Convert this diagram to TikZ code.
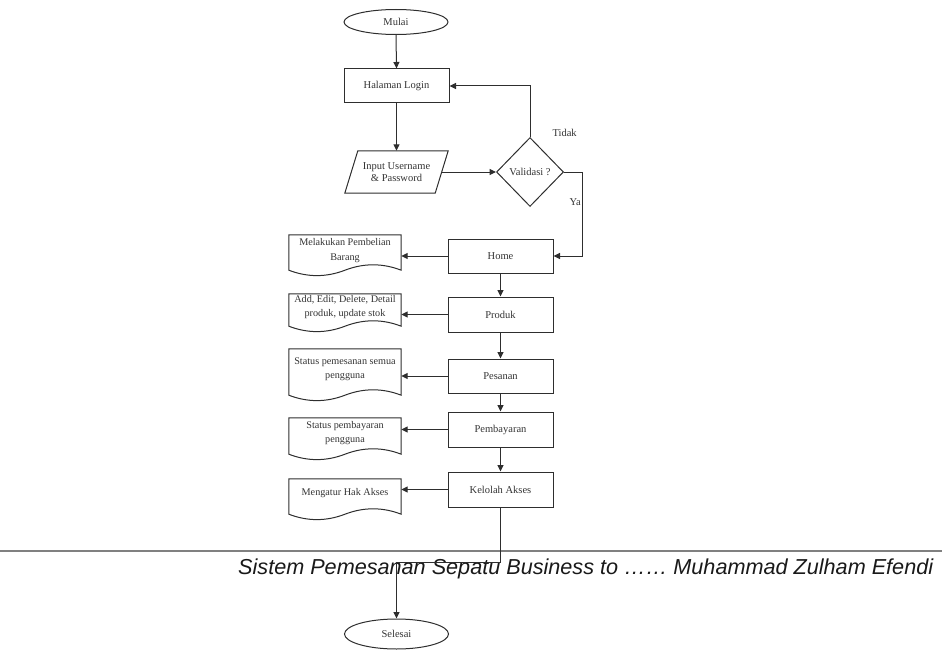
\documentclass[tikz,border=0pt]{standalone}
\usepackage{fontspec}
\setmainfont{Liberation Serif}
\newfontfamily\footfont{Liberation Sans}
\usepackage{graphicx}
\usetikzlibrary{shapes.geometric,arrows.meta,calc}
\definecolor{ln}{HTML}{2E2E2E}
\definecolor{tx}{HTML}{333333}
\begin{document}
\begin{tikzpicture}[x=1pt,y=-1pt,
  every node/.style={font=\fontsize{10.5}{14.5}\selectfont, text=tx},
  arr/.style={draw=ln, line width=1pt, -{Triangle[length=6.5pt,width=6pt]}},
  box/.style={draw=ln, line width=1pt, rectangle, minimum width=105pt, minimum height=34pt, inner sep=0pt},
  oval/.style={draw=ln, line width=1pt, ellipse, minimum width=104pt, inner sep=0pt},
  docbox/.style={rectangle, minimum width=112pt, inner sep=0pt, align=center, font=\fontsize{10.2}{14.5}\selectfont},
  shp/.style={draw=ln, line width=1pt}
]
\useasboundingbox (0,0) rectangle (942,650);

% top part
\node[oval, minimum height=25pt] (mulai) at (396,22) {Mulai};
\node[box] (login) at (396.5,86) {Halaman Login};
\node[rectangle, minimum width=103pt, minimum height=42pt, inner sep=0pt, align=center] (inp) at (396.5,172) {Input Username\\[-2pt]\& Password};
\draw[shp] ([xshift=13pt]inp.north west) -- (inp.north east) -- ([xshift=-13pt]inp.south east) -- (inp.south west) -- cycle;
\coordinate (inpR) at ($(inp.east)+(-6.5,0)$);
\node[draw=ln, line width=1pt, diamond, minimum width=67pt, minimum height=69pt, inner sep=0pt] (val) at (530,172) {Validasi ?};

\node[anchor=west] (tidak) at (549,133) {Tidak};
\node[anchor=west] (ya) at (566,202) {Ya};

% main column
\node[box] (home) at (500.5,256) {Home};
\node[box, minimum height=35pt] (produk) at (500.5,314.5) {Produk};
\node[box] (pesanan) at (500.5,376) {Pesanan};
\node[box, minimum height=35pt] (bayar) at (500.5,429.5) {Pembayaran};
\node[box, minimum height=35pt] (kelola) at (500.5,489.5) {Kelolah Akses};
\node[oval, minimum height=30pt] (selesai) at (396.5,634) {Selesai};

% documents
\node[docbox, minimum height=29pt, text depth=0pt] (d1) at (345,249.5) {Melakukan Pembelian\\Barang};
\node[docbox, minimum height=26pt] (d2) at (345,307) {Add, Edit, Delete, Detail\\produk, update stok};
\node[docbox, minimum height=40pt] (d3) at (345,369) {Status pemesanan semua\\pengguna};
\node[docbox, minimum height=30pt] (d4) at (345,433) {Status pembayaran\\pengguna};
\node[docbox, minimum height=29pt] (d5) at (345,493.5) {Mengatur Hak Akses};
\foreach \n in {d1,d2,d3,d4,d5}{
  \draw[shp] (\n.north west) -- (\n.north east) -- ([yshift=-6pt]\n.south east)
    .. controls ([xshift=-18.67pt,yshift=1.2pt]\n.south east) and ([xshift=18.67pt,yshift=1.2pt]\n.south) .. ([yshift=-6pt]\n.south)
    .. controls ([xshift=-18.67pt,yshift=-13.2pt]\n.south) and ([xshift=18.67pt,yshift=-13.2pt]\n.south west) .. ([yshift=-6pt]\n.south west) -- cycle;
}

% footer rule and text
\coordinate (ruleL) at (0,551);
\coordinate (ruleR) at (942,551);
\draw[draw=black!50, line width=1.6pt] (ruleL) -- (ruleR);
\node[anchor=base west, inner sep=0pt, text=black!90] (footer) at (238,574) {\resizebox{695pt}{!}{\footfont\itshape\fontsize{21}{25}\selectfont Sistem Pemesanan Sepatu Business to …… Muhammad Zulham Efendi}};

% connectors
\draw[arr] (mulai.south) -- (login.north);
\draw[arr] (login.south) -- (inp.north -| login.south);
\draw[arr] (inpR) -- (val.west);
\draw[arr] (val.north) |- (login.east);
\coordinate (yaX) at (582,172);
\draw[arr] (val.east) -- (yaX) |- (home.east);
\draw[arr] (home.south) -- (produk.north);
\draw[arr] (produk.south) -- (pesanan.north);
\draw[arr] (pesanan.south) -- (bayar.north);
\draw[arr] (bayar.south) -- (kelola.north);
\draw[arr] (home.west) -- (home.west -| d1.east);
\draw[arr] (produk.west) -- (produk.west -| d2.east);
\draw[arr] (pesanan.west) -- (pesanan.west -| d3.east);
\draw[arr] (bayar.west) -- (bayar.west -| d4.east);
\draw[arr] (kelola.west) -- (kelola.west -| d5.east);
\coordinate (bendY) at (0,562);
\draw[arr] (kelola.south) -- (kelola.south |- bendY) -| (selesai.north);
\end{tikzpicture}
\end{document}
